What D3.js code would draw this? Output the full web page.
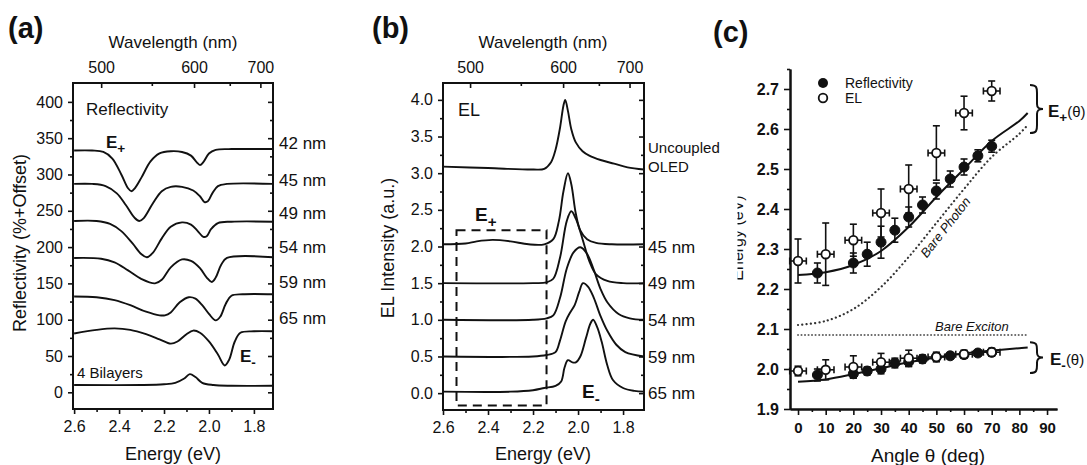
<!DOCTYPE html>
<html>
<head>
<meta charset="utf-8">
<script src="https://cdn.jsdelivr.net/npm/d3@7"></script>
<style>
body { margin: 0; background: #fff; }
svg text { font-family: "Liberation Sans", Arial, sans-serif; fill: #111; }
</style>
</head>
<body>
<div id="chart"></div>
<script>
// shared energy / wavelength ticks
var energyTicks = [2.6, 2.4, 2.2, 2.0, 1.8];
var energyMinor = [2.5, 2.3, 2.1, 1.9];
var wavelengthTicks = [500, 600, 700];
var wavelengthMinor = [550, 650];

// (a) reflectivity, [energy eV, reflectivity %+offset]
var reflTicks = [0, 50, 100, 150, 200, 250, 300, 350, 400];
var reflMinor = [25, 75, 125, 175, 225, 275, 325, 375];
var reflNames = ["42 nm", "45 nm", "49 nm", "54 nm", "59 nm", "65 nm"];
var reflLabelAt = [343, 292, 247, 200, 152, 103];
var refl42 = [[2.6,333],[2.52,333],[2.47,331],[2.43,322],[2.39,300],[2.36,281],[2.345,277],[2.33,281],[2.3,296],[2.26,318],[2.22,329],[2.17,332],[2.12,331],[2.08,326],[2.055,317],[2.04,313],[2.025,317],[2.0,329],[1.97,334],[1.9,335],[1.715,335]];
var refl45 = [[2.6,287],[2.52,287],[2.46,284],[2.41,274],[2.37,258],[2.33,240],[2.31,236],[2.29,240],[2.25,260],[2.21,277],[2.17,283],[2.12,283],[2.07,278],[2.04,270],[2.02,262],[2.005,263],[1.985,274],[1.96,284],[1.92,287],[1.715,287]];
var refl49 = [[2.6,236],[2.5,236],[2.44,232],[2.39,222],[2.34,205],[2.3,190],[2.276,186],[2.25,192],[2.21,212],[2.17,228],[2.12,234],[2.08,231],[2.05,222],[2.025,214],[2.01,215],[1.99,225],[1.96,233],[1.9,235],[1.715,235]];
var refl54 = [[2.6,185],[2.48,184],[2.42,179],[2.36,168],[2.3,156],[2.24,150],[2.21,155],[2.17,172],[2.12,183],[2.08,181],[2.04,171],[2.01,158],[1.987,152],[1.97,158],[1.945,176],[1.92,185],[1.715,186]];
var refl59 = [[2.6,132],[2.5,131],[2.42,127],[2.35,120],[2.28,111],[2.22,106],[2.196,106],[2.17,110],[2.13,124],[2.09,131],[2.06,129],[2.03,120],[2.0,108],[1.97,99],[1.95,104],[1.925,122],[1.9,133],[1.85,135],[1.715,135]];
var refl65 = [[2.6,81],[2.5,86],[2.42,88],[2.35,86],[2.28,80],[2.22,73],[2.17,67],[2.14,70],[2.1,80],[2.07,85],[2.04,82],[2.0,70],[1.96,52],[1.93,37],[1.91,45],[1.885,70],[1.86,82],[1.8,84],[1.715,84]];
var reflBilayer = [[2.6,10],[2.3,10],[2.2,11],[2.15,13],[2.11,19],[2.085,25],[2.06,21],[2.03,13],[1.98,10],[1.9,9],[1.715,9]];

// (b) electroluminescence, [energy eV, intensity a.u.]
var elTicks = [0, 0.5, 1, 1.5, 2, 2.5, 3, 3.5, 4];
var elMinor = [0.25, 0.75, 1.25, 1.75, 2.25, 2.75, 3.25, 3.75];
var elNames = ["45 nm", "49 nm", "54 nm", "59 nm", "65 nm"];
var elLabelAt = [2.0, 1.5, 1.0, 0.5, 0.0];
var elOled = [[2.6,3.09],[2.4,3.07],[2.2,3.05],[2.15,3.06],[2.12,3.15],[2.1,3.32],[2.08,3.62],[2.065,3.92],[2.057,4.0],[2.045,3.85],[2.03,3.6],[2.01,3.42],[1.98,3.3],[1.95,3.24],[1.9,3.18],[1.84,3.13],[1.78,3.08],[1.707,3.05]];
var el45 = [[2.6,2.03],[2.5,2.04],[2.45,2.07],[2.38,2.09],[2.3,2.07],[2.22,2.03],[2.15,2.03],[2.11,2.1],[2.085,2.35],[2.065,2.75],[2.045,3.0],[2.03,2.85],[2.01,2.45],[1.99,2.22],[1.96,2.1],[1.92,2.05],[1.85,2.03],[1.707,2.03]];
var el49 = [[2.6,1.5],[2.2,1.5],[2.14,1.51],[2.11,1.56],[2.08,1.85],[2.05,2.35],[2.03,2.48],[2.01,2.38],[1.98,2.1],[1.95,1.8],[1.92,1.62],[1.87,1.53],[1.8,1.5],[1.707,1.5]];
var el54 = [[2.6,1.0],[2.2,1.0],[2.14,1.02],[2.11,1.06],[2.08,1.3],[2.05,1.7],[2.02,1.92],[1.99,1.99],[1.96,1.9],[1.93,1.68],[1.9,1.42],[1.87,1.24],[1.82,1.08],[1.77,1.02],[1.707,1.0]];
var el59 = [[2.6,0.5],[2.2,0.5],[2.14,0.52],[2.1,0.56],[2.08,0.72],[2.055,0.98],[2.035,1.1],[2.015,1.2],[1.995,1.38],[1.978,1.5],[1.955,1.45],[1.93,1.3],[1.9,1.05],[1.87,0.85],[1.83,0.66],[1.79,0.56],[1.707,0.5]];
var el65 = [[2.6,0.02],[2.3,0.02],[2.2,0.04],[2.15,0.07],[2.1,0.1],[2.075,0.16],[2.06,0.35],[2.045,0.45],[2.025,0.42],[2.01,0.42],[1.99,0.5],[1.965,0.75],[1.945,0.95],[1.933,1.0],[1.915,0.9],[1.895,0.7],[1.87,0.38],[1.845,0.18],[1.8,0.07],[1.75,0.03],[1.707,0.02]];
var boxEnergy = [2.54, 2.14];
var boxIntensity = [-0.17, 2.22];

// (c) dispersion, angle in deg, energy in eV
var angleTicks = [0, 10, 20, 30, 40, 50, 60, 70, 80, 90];
var angleMinor = [5, 15, 25, 35, 45, 55, 65, 75, 85];
var dispTicks = [1.9, 2.0, 2.1, 2.2, 2.3, 2.4, 2.5, 2.6, 2.7];
var dispMinor = [1.95, 2.05, 2.15, 2.25, 2.35, 2.45, 2.55, 2.65, 2.75];
var reflAngle = [7, 20, 25, 30, 35, 40, 45, 50, 55, 60, 65, 70];
var reflUpper = [2.24, 2.265, 2.287, 2.317, 2.347, 2.38, 2.41, 2.445, 2.475, 2.505, 2.533, 2.557];
var reflUpperErr = [0.025, 0.025, 0.03, 0.04, 0.03, 0.025, 0.02, 0.02, 0.02, 0.02, 0.015, 0.015];
var reflLower = [1.985, 1.988, 1.995, 2.0, 2.015, 2.018, 2.025, 2.03, 2.033, 2.036, 2.04, 2.042];
var reflLowerErr = [0.015, 0.01, 0.01, 0.012, 0.012, 0.012, 0.01, 0.01, 0.008, 0.008, 0.008, 0.008];
var elAngle = [0, 10, 20, 30, 40, 50, 60, 70];
var elUpper = [2.27, 2.287, 2.322, 2.39, 2.45, 2.54, 2.64, 2.695];
var elUpperErr = [0.055, 0.078, 0.04, 0.06, 0.06, 0.068, 0.042, 0.025];
var elLower = [1.995, 1.998, 2.005, 2.017, 2.027, 2.03, 2.037, 2.042];
var elLowerErr = [0.012, 0.025, 0.028, 0.022, 0.02, 0.012, 0.01, 0.01];
var elAngleErr = 3;
var fitAngle = [0, 10, 20, 30, 40, 50, 60, 70, 80, 83];
var fitUpper = [2.235, 2.242, 2.26, 2.295, 2.355, 2.43, 2.5, 2.57, 2.62, 2.64];
var fitLower = [1.968, 1.974, 1.987, 2.002, 2.017, 2.029, 2.039, 2.046, 2.052, 2.054];
var barePhoton = [2.11, 2.12, 2.15, 2.205, 2.28, 2.365, 2.45, 2.53, 2.588, 2.61];
var bareExciton = [2.085, 2.085, 2.085, 2.085, 2.085, 2.085, 2.085, 2.085, 2.085, 2.085];

function nmToEv(nm) { return 1239.84 / nm; }
function noLabel() { return ""; }

var svg = d3.select("#chart").append("svg")
  .attr("width", 1087)
  .attr("height", 465);

var smooth = d3.curveCatmullRom.alpha(0.5);

function styleAxis(g, size, bold) {
  g.attr("font-size", size).attr("font-weight", bold ? "bold" : "normal");
  g.selectAll(".tick line").attr("stroke", "#111").attr("stroke-width", 1.6);
  g.selectAll(".tick text").attr("fill", "#111");
}

// boxed frame with energy at the bottom and wavelength on top
function drawFrame(x, y, yTicks, yMinor, yFormat) {
  var left = x.range()[0], right = x.range()[1];
  var bottom = y.range()[0], top = y.range()[1];
  var g = svg.append("g");

  g.append("g").attr("transform", "translate(0," + bottom + ")")
    .call(d3.axisBottom(x).tickValues(energyTicks).tickFormat(d3.format(".1f"))
      .tickSize(5).tickSizeOuter(0).tickPadding(7))
    .call(styleAxis, 16);
  g.append("g").attr("transform", "translate(0," + bottom + ")")
    .call(d3.axisBottom(x).tickValues(energyMinor).tickFormat(noLabel).tickSize(3).tickSizeOuter(0))
    .call(styleAxis, 16);

  g.append("g").attr("transform", "translate(0," + top + ")")
    .call(d3.axisTop(x).tickValues(wavelengthTicks.map(nmToEv))
      .tickFormat(function(d, i) { return wavelengthTicks[i]; })
      .tickSizeInner(-5).tickSizeOuter(0).tickPadding(10))
    .call(styleAxis, 16);
  g.append("g").attr("transform", "translate(0," + top + ")")
    .call(d3.axisTop(x).tickValues(wavelengthMinor.map(nmToEv)).tickFormat(noLabel)
      .tickSizeInner(-3).tickSizeOuter(0))
    .call(styleAxis, 16);

  g.append("g").attr("transform", "translate(" + left + ",0)")
    .call(d3.axisLeft(y).tickValues(yTicks).tickFormat(yFormat).tickSize(5).tickSizeOuter(0).tickPadding(5))
    .call(styleAxis, 16);
  g.append("g").attr("transform", "translate(" + left + ",0)")
    .call(d3.axisLeft(y).tickValues(yMinor).tickFormat(noLabel).tickSize(3).tickSizeOuter(0))
    .call(styleAxis, 16);
  g.append("g").attr("transform", "translate(" + right + ",0)")
    .call(d3.axisRight(y).tickValues(yTicks).tickFormat(noLabel).tickSizeInner(-5).tickSizeOuter(0))
    .call(styleAxis, 16);
  g.append("g").attr("transform", "translate(" + right + ",0)")
    .call(d3.axisRight(y).tickValues(yMinor).tickFormat(noLabel).tickSizeInner(-3).tickSizeOuter(0))
    .call(styleAxis, 16);

  g.selectAll(".domain").remove();
  g.append("rect")
    .attr("x", left).attr("y", top)
    .attr("width", right - left).attr("height", bottom - top)
    .attr("fill", "none").attr("stroke", "#111").attr("stroke-width", 2);
}

function text(x, y, str, size, extra, parent) {
  var t = (parent || svg).append("text").attr("x", x).attr("y", y).attr("font-size", size).text(str);
  if (extra) extra(t);
  return t;
}

function subLabel(x, y, sign, size, tail) {
  var t = svg.append("text").attr("x", x).attr("y", y).attr("font-size", size).attr("font-weight", "bold").text("E");
  t.append("tspan").attr("dy", size * 0.3).attr("font-size", size * 0.8).text(sign);
  if (tail) t.append("tspan").attr("dy", -size * 0.3).attr("font-weight", "normal").attr("font-size", size * 0.88).text(tail);
  return t;
}

// ---------- (a) ----------
var xa = d3.scaleLinear().domain([2.605, 1.715]).range([73, 273]);
var ya = d3.scaleLinear().domain([-23, 426]).range([409, 83]);
drawFrame(xa, ya, reflTicks, reflMinor, d3.format("d"));

var lineA = d3.line().x(function(d) { return xa(d[0]); }).y(function(d) { return ya(d[1]); }).curve(smooth);
var reflCurves = [refl42, refl45, refl49, refl54, refl59, refl65, reflBilayer];
svg.append("g").selectAll("path").data(reflCurves).enter().append("path")
  .attr("d", lineA).attr("fill", "none").attr("stroke", "#111").attr("stroke-width", 1.9);

svg.append("g").selectAll("text").data(reflNames).enter().append("text")
  .attr("x", 279).attr("y", function(d, i) { return ya(reflLabelAt[i]); })
  .attr("dy", "0.36em").attr("font-size", 17).text(function(d) { return d; });

text(8, 38, "(a)", 29, function(t) { t.attr("font-weight", "bold"); });
text(173, 48, "Wavelength (nm)", 17, function(t) { t.attr("text-anchor", "middle"); });
text(173, 460, "Energy (eV)", 18, function(t) { t.attr("text-anchor", "middle"); });
text(0, 0, "Reflectivity (%+Offset)", 18, function(t) {
  t.attr("text-anchor", "middle").attr("transform", "translate(26,243) rotate(-90)");
});
text(86, 115, "Reflectivity", 17);
subLabel(106, 148, "+", 17);
subLabel(240, 362, "-", 17);
text(77, 378, "4 Bilayers", 15);

// ---------- (b) ----------
var xb = d3.scaleLinear().domain([2.6, 1.707]).range([443, 644]);
var yb = d3.scaleLinear().domain([-0.23, 4.23]).range([410, 83]);
drawFrame(xb, yb, elTicks, elMinor, d3.format(".1f"));

var lineB = d3.line().x(function(d) { return xb(d[0]); }).y(function(d) { return yb(d[1]); }).curve(smooth);
var elCurves = [elOled, el45, el49, el54, el59, el65];
svg.append("g").selectAll("path").data(elCurves).enter().append("path")
  .attr("d", lineB).attr("fill", "none").attr("stroke", "#111").attr("stroke-width", 1.9);

svg.append("rect")
  .attr("x", xb(boxEnergy[0])).attr("y", yb(boxIntensity[1]))
  .attr("width", xb(boxEnergy[1]) - xb(boxEnergy[0]))
  .attr("height", yb(boxIntensity[0]) - yb(boxIntensity[1]))
  .attr("fill", "none").attr("stroke", "#111").attr("stroke-width", 2)
  .attr("stroke-dasharray", "9,6");

svg.append("g").selectAll("text").data(elNames).enter().append("text")
  .attr("x", 648).attr("y", function(d, i) { return yb(elLabelAt[i]); })
  .attr("dy", "0.36em").attr("font-size", 17).text(function(d) { return d; });

text(372, 38, "(b)", 29, function(t) { t.attr("font-weight", "bold"); });
text(543, 48, "Wavelength (nm)", 17, function(t) { t.attr("text-anchor", "middle"); });
text(543, 460, "Energy (eV)", 18, function(t) { t.attr("text-anchor", "middle"); });
text(0, 0, "EL Intensity (a.u.)", 18, function(t) {
  t.attr("text-anchor", "middle").attr("transform", "translate(394,248) rotate(-90)");
});
text(458, 116, "EL", 18);
text(648, 153, "Uncoupled", 15);
text(648, 172, "OLED", 15);
subLabel(475, 221, "+", 19);
subLabel(582, 398, "-", 19);

// ---------- (c) ----------
var xc = d3.scaleLinear().domain([-2.9, 93.6]).range([790, 1057]);
var yc = d3.scaleLinear().domain([1.9, 2.75]).range([409, 69]);

var gc = svg.append("g");
gc.append("g").attr("transform", "translate(0,409)")
  .call(d3.axisBottom(xc).tickValues(angleTicks).tickSize(6).tickSizeOuter(0).tickPadding(7))
  .call(styleAxis, 15, true);
gc.append("g").attr("transform", "translate(0,409)")
  .call(d3.axisBottom(xc).tickValues(angleMinor).tickFormat(noLabel).tickSize(3).tickSizeOuter(0))
  .call(styleAxis, 15, true);
gc.append("g").attr("transform", "translate(790,0)")
  .call(d3.axisLeft(yc).tickValues(dispTicks).tickFormat(d3.format(".1f")).tickSize(6).tickSizeOuter(0).tickPadding(5))
  .call(styleAxis, 16, true);
gc.append("g").attr("transform", "translate(790,0)")
  .call(d3.axisLeft(yc).tickValues(dispMinor).tickFormat(noLabel).tickSize(3).tickSizeOuter(0))
  .call(styleAxis, 16, true);
gc.selectAll(".domain").attr("stroke", "#111").attr("stroke-width", 2);

var lineC = d3.line().x(function(d) { return xc(d[0]); }).y(function(d) { return yc(d[1]); }).curve(smooth);
function pairs(xs, ys) { return xs.map(function(v, i) { return [v, ys[i]]; }); }

gc.append("path").attr("d", lineC(pairs(fitAngle, barePhoton)))
  .attr("fill", "none").attr("stroke", "#333").attr("stroke-width", 2.2)
  .attr("stroke-dasharray", "0.1,4.2").attr("stroke-linecap", "round");
gc.append("path").attr("d", lineC(pairs(fitAngle, bareExciton)))
  .attr("fill", "none").attr("stroke", "#666").attr("stroke-width", 2)
  .attr("stroke-dasharray", "0.1,3.4").attr("stroke-linecap", "round");
gc.append("path").attr("d", lineC(pairs(fitAngle, fitUpper)))
  .attr("fill", "none").attr("stroke", "#111").attr("stroke-width", 2);
gc.append("path").attr("d", lineC(pairs(fitAngle, fitLower)))
  .attr("fill", "none").attr("stroke", "#111").attr("stroke-width", 2);

function drawPoints(angles, values, errs, open) {
  var g = gc.append("g").attr("stroke", "#111").attr("stroke-width", 1.6);
  angles.forEach(function(a, i) {
    var cx = xc(a), cy = yc(values[i]);
    var y0 = yc(values[i] - errs[i]), y1 = yc(values[i] + errs[i]);
    g.append("line").attr("x1", cx).attr("x2", cx).attr("y1", y0).attr("y2", y1);
    g.append("line").attr("x1", cx - 3.5).attr("x2", cx + 3.5).attr("y1", y0).attr("y2", y0);
    g.append("line").attr("x1", cx - 3.5).attr("x2", cx + 3.5).attr("y1", y1).attr("y2", y1);
    if (open) {
      var xl = xc(a - elAngleErr), xr = xc(a + elAngleErr);
      g.append("line").attr("x1", xl).attr("x2", xr).attr("y1", cy).attr("y2", cy);
      g.append("line").attr("x1", xl).attr("x2", xl).attr("y1", cy - 3.5).attr("y2", cy + 3.5);
      g.append("line").attr("x1", xr).attr("x2", xr).attr("y1", cy - 3.5).attr("y2", cy + 3.5);
    }
    g.append("circle").attr("cx", cx).attr("cy", cy).attr("r", open ? 4.3 : 5)
      .attr("fill", open ? "#fff" : "#111").attr("stroke-width", open ? 1.8 : 1);
  });
}
drawPoints(reflAngle, reflUpper, reflUpperErr, false);
drawPoints(reflAngle, reflLower, reflLowerErr, false);
drawPoints(elAngle, elUpper, elUpperErr, true);
drawPoints(elAngle, elLower, elLowerErr, true);

// legend
gc.append("circle").attr("cx", 823).attr("cy", 83).attr("r", 5).attr("fill", "#111");
gc.append("circle").attr("cx", 823).attr("cy", 98).attr("r", 4.3).attr("fill", "#fff").attr("stroke", "#111").attr("stroke-width", 1.8);
text(845, 88, "Reflectivity", 14);
text(845, 103, "EL", 14);

// curly braces
function brace(x, yTop, yBot) {
  var ym = (yTop + yBot) / 2, w = 7;
  var p = "M" + x + "," + yTop +
    " C" + (x + w) + "," + yTop + " " + (x + w) + "," + (yTop + 3) + " " + (x + w) + "," + (yTop + 8) +
    " L" + (x + w) + "," + (ym - 5) +
    " C" + (x + w) + "," + (ym - 1) + " " + (x + w + 2) + "," + ym + " " + (x + w + 6) + "," + ym +
    " C" + (x + w + 2) + "," + ym + " " + (x + w) + "," + (ym + 1) + " " + (x + w) + "," + (ym + 5) +
    " L" + (x + w) + "," + (yBot - 8) +
    " C" + (x + w) + "," + (yBot - 3) + " " + (x + w) + "," + yBot + " " + x + "," + yBot;
  gc.append("path").attr("d", p).attr("fill", "none").attr("stroke", "#111").attr("stroke-width", 2);
}
brace(1030, yc(2.71), yc(2.59));
brace(1030, yc(2.067), yc(1.99));
subLabel(1048, 117, "+", 17, "(\u03b8)");
subLabel(1050, 365, "-", 17, "(\u03b8)");

text(0, 0, "Bare Photon", 13, function(t) {
  t.attr("font-style", "italic").attr("fill", "#222").attr("text-anchor", "middle")
    .attr("transform", "translate(949,230) rotate(-52)");
});
text(935, 331, "Bare Exciton", 13, function(t) { t.attr("font-style", "italic").attr("fill", "#222"); });

text(713, 42, "(c)", 29, function(t) { t.attr("font-weight", "bold"); });
text(928, 462, "Angle \u03b8 (deg)", 19, function(t) { t.attr("text-anchor", "middle"); });

// partly hidden y title of (c)
svg.append("clipPath").attr("id", "cut").append("rect")
  .attr("x", 737.5).attr("y", 0).attr("width", 20).attr("height", 465);
var cutGroup = svg.append("g").attr("clip-path", "url(#cut)");
text(0, 0, "Energy (eV)", 16, function(t) {
  t.attr("text-anchor", "middle").attr("fill", "#1c2756")
    .attr("transform", "translate(743,238) rotate(-90)");
}, cutGroup);
</script>
</body>
</html>
